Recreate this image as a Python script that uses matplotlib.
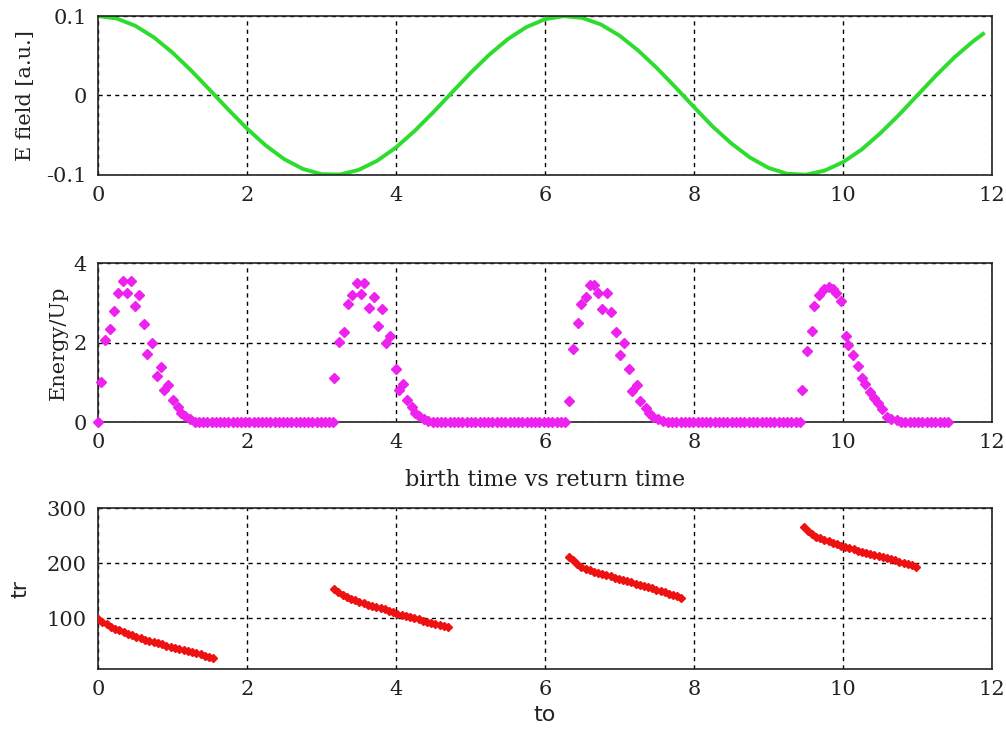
import numpy as np
import matplotlib
matplotlib.use("Agg")
import matplotlib.pyplot as plt

# ---- top panel: driving field ----
field_t = [0.0, 0.25, 0.5, 0.75, 1.0, 1.25, 1.5, 1.75, 2.0, 2.25, 2.5, 2.75,
           3.0, 3.25, 3.5, 3.75, 4.0, 4.25, 4.5, 4.75, 5.0, 5.25, 5.5, 5.75,
           6.0, 6.25, 6.5, 6.75, 7.0, 7.25, 7.5, 7.75, 8.0, 8.25, 8.5, 8.75,
           9.0, 9.25, 9.5, 9.75, 10.0, 10.25, 10.5, 10.75, 11.0, 11.25, 11.5,
           11.75, 11.88]
field_e = [0.1000, 0.0969, 0.0878, 0.0732, 0.0540, 0.0315, 0.0071, -0.0178,
           -0.0416, -0.0628, -0.0801, -0.0924, -0.0990, -0.0994, -0.0936,
           -0.0820, -0.0654, -0.0446, -0.0211, 0.0037, 0.0284, 0.0512, 0.0709,
           0.0861, 0.0960, 0.0999, 0.0977, 0.0894, 0.0754, 0.0567, 0.0347,
           0.0105, -0.0146, -0.0390, -0.0602, -0.0780, -0.0911, -0.0985,
           -0.0997, -0.0946, -0.0839, -0.0680, -0.0476, -0.0245, 0.0004,
           0.0253, 0.0484, 0.0685, 0.0775]

# ---- middle panel: return energy vs birth time ----
peak_t = [
    [0.0, 0.04, 0.09, 0.16, 0.21, 0.27, 0.33, 0.39, 0.44, 0.50, 0.55, 0.62,
     0.66, 0.72, 0.79, 0.84, 0.89, 0.94, 1.01, 1.08, 1.12, 1.17, 1.23],
    [3.17, 3.24, 3.30, 3.35, 3.41, 3.47, 3.53, 3.57, 3.64, 3.70, 3.76, 3.81,
     3.87, 3.92, 4.00, 4.04, 4.09, 4.15, 4.21, 4.25, 4.31, 4.37, 4.43],
    [6.32, 6.38, 6.44, 6.48, 6.55, 6.60, 6.66, 6.71, 6.77, 6.83, 6.89, 6.95,
     7.01, 7.06, 7.13, 7.17, 7.24, 7.28, 7.36, 7.40, 7.45, 7.52, 7.59],
    [9.45, 9.52, 9.58, 9.61, 9.68, 9.74, 9.81, 9.86, 9.91, 9.97, 10.04, 10.07,
     10.13, 10.20, 10.25, 10.30, 10.36, 10.42, 10.47, 10.53, 10.59, 10.65,
     10.72],
]
peak_energy = [
    [0.0, 1.01, 2.06, 2.34, 2.80, 3.26, 3.55, 3.26, 3.55, 2.92, 3.20, 2.46,
     1.71, 1.98, 1.16, 1.38, 0.82, 0.93, 0.55, 0.38, 0.23, 0.15, 0.09],
    [1.10, 2.02, 2.26, 2.97, 3.19, 3.50, 3.22, 3.50, 2.88, 3.15, 2.41, 2.84,
     1.98, 2.17, 1.33, 0.82, 0.95, 0.55, 0.37, 0.23, 0.15, 0.09, 0.03],
    [0.54, 1.83, 2.50, 2.96, 3.15, 3.46, 3.46, 3.24, 2.84, 3.26, 2.76, 2.26,
     1.70, 1.98, 1.33, 0.78, 0.93, 0.54, 0.36, 0.22, 0.13, 0.07, 0.03],
    [0.82, 1.79, 2.30, 2.92, 3.19, 3.34, 3.40, 3.36, 3.24, 3.04, 2.17, 1.94,
     1.69, 1.41, 1.11, 0.95, 0.75, 0.60, 0.47, 0.34, 0.13, 0.09, 0.06],
]
# trajectories that never come back: zero energy runs (start, stop, count)
zero_runs = [(1.30, 3.16, 34), (4.49, 6.27, 32), (7.65, 9.42, 32),
             (10.78, 11.41, 12)]

# ---- bottom panel: return time vs birth time ----
return_span = [(0.0, 1.55), (3.17, 4.70), (6.32, 7.83), (9.47, 10.98)]
return_time = [
    [98, 93, 89, 85, 81.5, 78, 75, 72, 69, 66.5, 64, 61.5, 59, 56.5, 54.5,
     52.5, 50.5, 48.5, 46.5, 44.5, 42.5, 40.5, 38.5, 36.5, 34.5, 32, 30, 27.5],
    [154, 148, 143, 139, 135.5, 132.5, 130, 127.5, 125, 122.5, 120, 118, 116,
     113.5, 111, 108.5, 106, 104, 102, 100, 98, 96, 94, 92, 90, 88, 86, 84],
    [212, 205, 199, 194, 190, 187, 184.5, 182, 180, 178, 176, 174, 172, 170,
     168, 165.5, 163, 161, 159, 157, 154.5, 152, 150, 147.5, 145, 142.5, 140,
     137.5],
    [266, 259, 253, 248, 245, 242, 239.5, 237, 234.5, 232, 229.5, 227, 225,
     223, 221, 219, 217, 215, 213, 211, 209, 207, 205, 203, 201, 198.5, 196,
     193.5],
]

x_ticks = [0, 2, 4, 6, 8, 10, 12]

plt.rcParams["font.family"] = ["DejaVu Serif"]
plt.rcParams["font.size"] = 14

fig = plt.figure(figsize=(10.06, 7.29), dpi=100)
ax1 = fig.add_axes([0.0974, 0.760, 0.8887, 0.218])
ax2 = fig.add_axes([0.0974, 0.421, 0.8887, 0.218])
ax3 = fig.add_axes([0.0974, 0.0823, 0.8887, 0.2207])


def style(ax):
    ax.set_xlim(0, 12)
    ax.set_xticks(x_ticks)
    ax.grid(True, color="black", linestyle=(0, (3, 3)), linewidth=1.0)
    ax.tick_params(length=0, pad=8, labelsize=15, labelcolor="#222222")
    for s in ax.spines.values():
        s.set_linewidth(1.2)
        s.set_color("#222222")


ax1.plot(field_t, field_e, color="#2ddd2d", linewidth=2.8)
ax1.set_ylim(-0.1, 0.1)
ax1.set_yticks([-0.1, 0, 0.1])
ax1.set_yticklabels(["-0.1", "0", "0.1"])
style(ax1)
ax1.set_ylabel("E field [a.u.]", fontsize=15, color="#222222")
ax1.yaxis.set_label_coords(-0.070, 0.5)

magenta = "#ee22ee"
for ts, es in zip(peak_t, peak_energy):
    ax2.plot(ts, es, linestyle="none", marker="D", markersize=5,
             color=magenta, clip_on=False, zorder=3)
for start, stop, n in zero_runs:
    zt = np.linspace(start, stop, n)
    ax2.plot(zt, np.zeros(n), linestyle="none", marker="D", markersize=5,
             color=magenta, clip_on=False, zorder=3)
ax2.set_ylim(0, 4)
ax2.set_yticks([0, 2, 4])
style(ax2)
ax2.set_ylabel("Energy/Up", fontsize=15, color="#222222")
ax2.yaxis.set_label_coords(-0.034, 0.5)
ax2.set_xlabel("birth time vs return time", fontsize=16, color="#222222")
ax2.xaxis.set_label_coords(0.5, -0.295)

for (t0, t1), tr in zip(return_span, return_time):
    tb = np.linspace(t0, t1, len(tr))
    ax3.plot(tb, tr, linestyle="none", marker="D", markersize=4.5,
             color="#ee1111", zorder=3)
ax3.set_ylim(8, 300)
ax3.set_yticks([100, 200, 300])
style(ax3)
ax3.set_ylabel("tr", fontsize=16, family="DejaVu Sans", color="#222222")
ax3.yaxis.set_label_coords(-0.076, 0.5)
ax3.set_xlabel("to", fontsize=16, family="DejaVu Sans", color="#222222")
ax3.xaxis.set_label_coords(0.5, -0.225)

fig.savefig("out.png", dpi=100)
